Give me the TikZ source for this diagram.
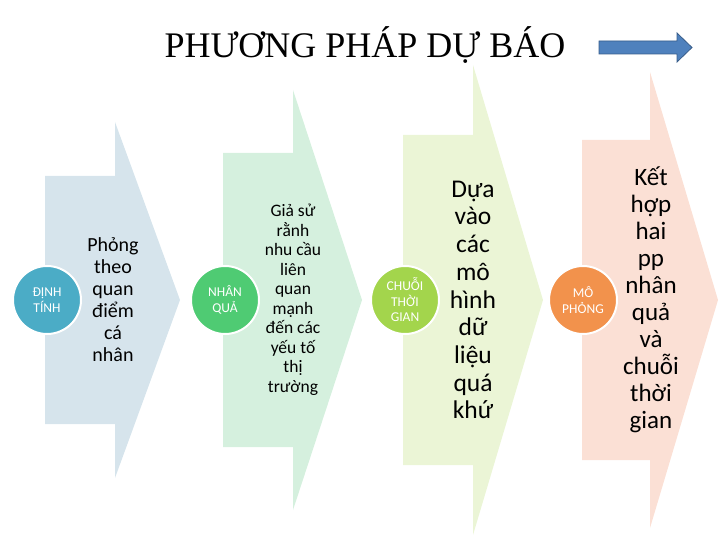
\documentclass[tikz,border=0pt]{standalone}
\usepackage{fontspec}
\setmainfont{Liberation Serif}
\newfontfamily\carlito{Carlito}
\definecolor{grauA}{HTML}{D6E4EC}
\definecolor{gruenA}{HTML}{D5F0DE}
\definecolor{gelbA}{HTML}{EBF5D6}
\definecolor{rosaA}{HTML}{FBE0D5}
\definecolor{kreisA}{HTML}{4BACC6}
\definecolor{kreisB}{HTML}{4FCB73}
\definecolor{kreisC}{HTML}{A3D54C}
\definecolor{kreisD}{HTML}{F2924C}
\definecolor{pfeilblau}{HTML}{4F81BD}
\definecolor{pfeilrand}{HTML}{385D8A}
\tikzset{
  kreis/.style={circle, draw=white, line width=2pt, minimum size=68pt, inner sep=0pt,
    align=center, text=white, font=\carlito\fontsize{13.5}{15.5}\selectfont},
  inhalt/.style={align=center, inner sep=0pt}
}
\begin{document}
\begin{tikzpicture}[x=1pt,y=-1pt]
  \useasboundingbox (0,0) rectangle (720,540);
  % Titel
  \node (titel) at (365,45) {\fontsize{36}{40}\selectfont PHƯƠNG PHÁP DỰ BÁO};
  % Pfeil rechts
  \draw[pfeilrand, fill=pfeilblau, line width=0.8pt]
    (599,41) -- (677,41) -- (677,33) -- (692,47.5) -- (677,62) -- (677,54) -- (599,54) -- cycle;
  % Spitzpfeile (links, Knick, Spitze, halbe Hoehe Rumpf, halbe Hoehe Kopf, Farbe)
  \foreach \l/\n/\t/\h/\H/\f in {45/115/180/124/178/grauA, 223/293/362/147/210/gruenA,
      403/473/543/165/235/gelbA, 582/650/718/160/228/rosaA}
    \fill[\f] (\l,300-\h) -- (\n,300-\h) -- (\n,300-\H) -- (\t,300)
      -- (\n,300+\H) -- (\n,300+\h) -- (\l,300+\h) -- cycle;
  % Kreise
  \node[kreis, fill=kreisA] (dinhtinh) at (47,300) {ĐỊNH\\TÍNH};
  \node[kreis, fill=kreisB] (nhanqua) at (225,300) {NHÂN\\QUẢ};
  \node[kreis, fill=kreisC] (chuoi) at (405,300) {CHUỖI\\THỜI\\GIAN};
  \node[kreis, fill=kreisD] (mophong) at (583,300) {MÔ\\PHỎNG};
  % Texte
  \node[inhalt, font=\carlito\fontsize{20}{22}\selectfont] (textA) at (113,300)
    {Phỏng\\theo\\quan\\điểm\\cá\\nhân};
  \node[inhalt, font=\carlito\fontsize{17.5}{19.5}\selectfont] (textB) at (293,300)
    {Giả sử\\rằnh\\nhu cầu\\liên\\quan\\mạnh\\đến các\\yếu tố\\thị\\trường};
  \node[inhalt, font=\carlito\fontsize{25.5}{27.7}\selectfont] (textC) at (473,300)
    {Dựa\\vào\\các\\mô\\hình\\dữ\\liệu\\quá\\khứ};
  \node[inhalt, font=\carlito\fontsize{25}{27}\selectfont] (textD) at (651,300)
    {Kết\\hợp\\hai\\pp\\nhân\\quả\\và\\chuỗi\\thời\\gian};
\end{tikzpicture}
\end{document}
